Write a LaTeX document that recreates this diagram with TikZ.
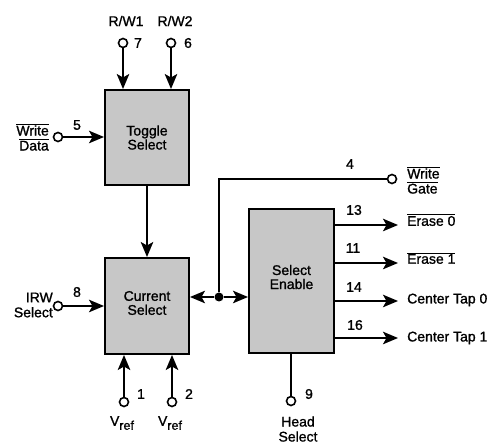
\documentclass[tikz,border=0pt]{standalone}
\usepackage{fontspec}
\setmainfont{Liberation Sans}[FakeBold=1.2]
\usetikzlibrary{arrows.meta}
\newcommand\ovl[1]{$\overline{\mbox{#1}}$}
\newcommand\vrefl{V\raisebox{-4pt}{\fontsize{12.5}{13}\selectfont ref}}
\begin{document}
\begin{tikzpicture}[x=1pt,y=-1pt,
  blk/.style={draw,line width=2pt,fill=black!22,minimum width=84pt,inner sep=0pt,align=center},
  pinc/.style={circle,draw,fill=white,line width=1.6pt,inner sep=0pt,minimum size=9pt},
  jdot/.style={circle,fill=black,inner sep=0pt,minimum size=9pt},
  wire/.style={line width=1.8pt},
  arr/.style={wire,-{Stealth[length=15pt,width=12.5pt,inset=3.5pt]}},
  darr/.style={wire,{Stealth[length=15pt,width=12.5pt,inset=3.5pt]}-},
  lbl/.style={font=\fontsize{14}{16}\selectfont,inner sep=0pt},
  lbll/.style={lbl,anchor=west,align=left},
  lblr/.style={lbl,anchor=east,align=right}]
\useasboundingbox (0,0) rectangle (493,446);
% blocks
\node[blk,minimum height=95pt] (tog) at (147,137.5) {};
\node[lbl,align=center] (togt) at (147,137.5) {Toggle\\[-2pt]Select};
\node[blk,minimum height=96pt] (cur) at (147,306) {};
\node[lbl,align=center] (curt) at (147,303) {Current\\[-2pt]Select};
\node[blk,minimum height=144pt,minimum width=85pt] (sel) at (291.5,281) {};
\node[lbl,align=center] (selt) at (291.5,277) {Select\\[-2pt]Enable};
% pins
\node[pinc] (p7) at (123,43) {};
\node[pinc] (p6) at (171,43) {};
\node[pinc] (p5) at (58,137) {};
\node[pinc] (p8) at (58,306) {};
\node[pinc] (p1) at (124,402) {};
\node[pinc] (p2) at (172,402) {};
\node[pinc] (p9) at (291,401) {};
\node[pinc] (p4) at (392,179) {};
\node[jdot] (dot) at (219,297) {};
% pin labels
\node[lbl] (l7) at (126,21) {R/W1};
\node[lbl] (l6) at (175,21) {R/W2};
\node[lbl] (n7) at (138,43) {7};
\node[lbl] (n6) at (188,43) {6};
\node[lbl] (n5) at (77,125) {5};
\node[lblr] (lwd) at (49,137) {\ovl{Write}\\[-1pt]\ovl{Data}};
\node[lbl] (n8) at (77,292) {8};
\node[lblr] (lirw) at (53,305) {IRW\\[-1pt]Select};
\node[lbl] (n1) at (141,394) {1};
\node[lbl] (n2) at (189,394) {2};
\node[lbl] (lv1) at (122,423) {\vrefl};
\node[lbl] (lv2) at (170,423) {\vrefl};
\node[lbl] (n9) at (309,394) {9};
\node[lbl,align=center] (lhs) at (298,429) {Head\\[-1pt]Select};
\node[lbl] (n4) at (350,164) {4};
\node[lbll] (lwg) at (407,180) {\ovl{Write}\\[-1pt]\ovl{Gate}};
% outputs
\coordinate (o13) at (398,225);
\coordinate (o11) at (398,263);
\coordinate (o14) at (398,301);
\coordinate (o16) at (398,338);
\node[lbl] (n13) at (354,210) {13};
\node[lbl] (n11) at (353,248) {11};
\node[lbl] (n14) at (354,287) {14};
\node[lbl] (n16) at (355,325) {16};
\node[lbll] (le0) at (407,220) {\ovl{Erase 0}};
\node[lbll] (le1) at (407,258) {\ovl{Erase 1}};
\node[lbll] (lc0) at (407,300) {Center Tap 0};
\node[lbll] (lc1) at (407,338) {Center Tap 1};
% connectors
\draw[arr] (p7) -- (p7 |- tog.north);
\draw[arr] (p6) -- (p6 |- tog.north);
\draw[arr] (p5) -- (tog.west |- p5);
\draw[arr] (tog.south) -- (cur.north);
\draw[arr] (p8) -- (cur.west |- p8);
\draw[arr] (p1) -- (p1 |- cur.south);
\draw[arr] (p2) -- (p2 |- cur.south);
\draw[darr] (cur.east |- dot) -- (dot);
\draw[arr] (dot) -- (sel.west |- dot);
\draw[wire] (dot) |- (p4);
\draw[wire] (sel.south -| p9) -- (p9);
\draw[arr] (sel.east |- o13) -- (o13);
\draw[arr] (sel.east |- o11) -- (o11);
\draw[arr] (sel.east |- o14) -- (o14);
\draw[arr] (sel.east |- o16) -- (o16);
\end{tikzpicture}
\end{document}
